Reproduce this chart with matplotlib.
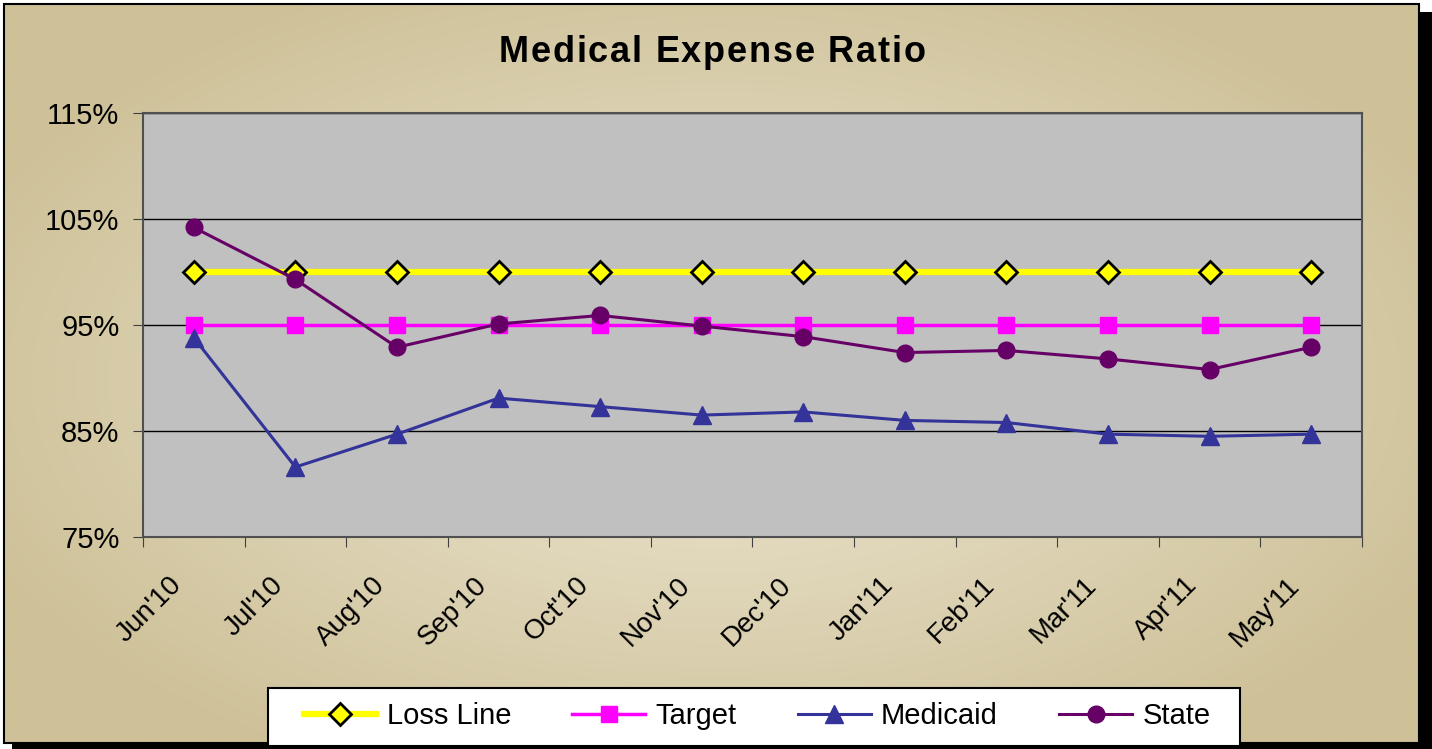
import numpy as np
import matplotlib
matplotlib.use('Agg')
import matplotlib.pyplot as plt
from matplotlib.colors import LinearSegmentedColormap
from matplotlib.patches import Rectangle
from matplotlib.ticker import FixedLocator, NullFormatter, FuncFormatter
from matplotlib.transforms import ScaledTranslation

plt.rcParams['font.family'] = ['Liberation Sans', 'DejaVu Sans']

months = ["Jun'10", "Jul'10", "Aug'10", "Sep'10", "Oct'10", "Nov'10",
          "Dec'10", "Jan'11", "Feb'11", "Mar'11", "Apr'11", "May'11"]
loss_line = [100] * 12
target = [95] * 12
medicaid = [93.8, 81.6, 84.7, 88.1, 87.3, 86.5, 86.8, 86.0, 85.8, 84.7, 84.5, 84.7]
state = [104.2, 99.3, 92.9, 95.1, 95.9, 94.9, 93.9, 92.4, 92.6, 91.8, 90.8, 92.9]
title = 'Medical Expense Ratio'

W, H = 1432, 749
fig = plt.figure(figsize=(W / 100, H / 100), dpi=100)
fig.patch.set_facecolor('white')

# gradient background with shadowed frame
bg = fig.add_axes([0, 0, 1, 1], zorder=-10)
bg.set_xlim(0, W)
bg.set_ylim(H, 0)
bg.axis('off')
bg.add_patch(Rectangle((12, 12), 1420, 737, facecolor='black', edgecolor='none'))
yy, xx = np.mgrid[0:H, 0:W]
d = np.sqrt(((xx - 720) / 820.0) ** 2 + ((yy - 380) / 450.0) ** 2)
d = np.clip(d, 0, 1)
cmap = LinearSegmentedColormap.from_list('tan', ['#EEE8D3', '#DED4B6', '#CEC198'])
bg.imshow(d, cmap=cmap, extent=(4, 1419, 743, 4), aspect='auto', zorder=1)
bg.add_patch(Rectangle((4, 4), 1415, 739, facecolor='none', edgecolor='black', lw=1.5, zorder=2))
# legend box
bg.add_patch(Rectangle((268, 688), 972, 58, facecolor='white', edgecolor='black', lw=1.5, zorder=3))

ax = fig.add_axes([143 / W, 1 - 537 / H, (1362 - 143) / W, (537 - 113) / H])
ax.set_facecolor('#C0C0C0')
x = np.arange(len(months))

ax.plot(x, loss_line, color='#FFFF00', lw=4.5, marker='D', ms=11, mfc='#FFFF00',
        mec='black', mew=2, label='Loss Line', zorder=3)
ax.plot(x, target, color='#FF00FF', lw=2.5, marker='s', ms=11, mfc='#FF00FF',
        mec='#FF00FF', label='Target', zorder=3)
ax.plot(x, medicaid, color='#333399', lw=2.2, marker='^', ms=13, mfc='#333399',
        mec='#333399', label='Medicaid', zorder=4)
ax.plot(x, state, color='#660066', lw=2.2, marker='o', ms=12, mfc='#660066',
        mec='#660066', label='State', zorder=5)

ax.set_xlim(-0.5, len(months) - 0.5)
ax.set_ylim(75, 115)
ax.set_yticks([75, 85, 95, 105, 115])
ax.yaxis.set_major_formatter(FuncFormatter(lambda v, p: f'{v:.0f}%'))
ax.grid(axis='y', color='black', lw=1)
ax.set_axisbelow(True)

# ticks on category boundaries, labels at category centres
ax.xaxis.set_major_locator(FixedLocator(np.arange(-0.5, len(months), 1.0)))
ax.xaxis.set_major_formatter(NullFormatter())
ax.tick_params(axis='x', which='major', length=7, color='#404040', direction='out')
ax.tick_params(axis='y', length=7, color='#404040', labelsize=21, pad=10)
for s in ax.spines.values():
    s.set_color('#505050')
    s.set_linewidth(1.5)

off = ScaledTranslation(-25 / 100, -35 / 100, fig.dpi_scale_trans)
for i, m in enumerate(months):
    ax.text(x[i], 0, m, transform=ax.get_xaxis_transform() + off, rotation=45,
            rotation_mode='anchor', ha='right', va='top', fontsize=20)

# letter-spaced title
renderer = fig.canvas.get_renderer()
def text_w(s):
    if not s:
        return 0.0
    t = fig.text(0, 0, s, fontsize=26, fontweight='bold')
    w = t.get_window_extent(renderer).width
    t.remove()
    return w
spacing = 1.8
total = text_w(title) + spacing * (len(title) - 1)
x0 = 712 - total / 2
for i, ch in enumerate(title):
    px = x0 + text_w(title[:i]) + spacing * i
    fig.text(px / W, 1 - 52 / H, ch, ha='left', va='center', fontsize=26, fontweight='bold')

leg = fig.legend(loc='center', bbox_to_anchor=(757 / W, 1 - 716 / H), ncol=4,
                 fontsize=21, frameon=False, handlelength=2.5,
                 columnspacing=2.1, handletextpad=0.35, borderpad=0.3)

fig.savefig('out.png', dpi=100)
